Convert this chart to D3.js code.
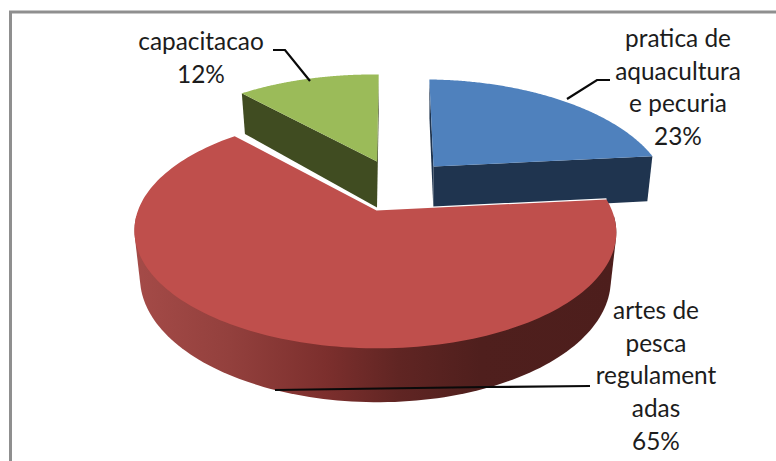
<!DOCTYPE html>
<html>
<head>
<meta charset="utf-8">
<script src="https://cdn.jsdelivr.net/npm/d3@7"></script>
<style>html,body{margin:0;padding:0;background:#fff}svg{display:block}</style>
</head>
<body>
<svg id="chart" width="776" height="461"></svg>
<script>
const categories = ["pratica de aquacultura e pecuria", "artes de pesca regulamentadas", "capacitacao"];
const values = [23, 65, 12];
const percentLabels = ["23%", "65%", "12%"];
const labelLines = [
  ["pratica de", "aquacultura", "e pecuria", "23%"],
  ["artes de", "pesca", "regulament", "adas", "65%"],
  ["capacitacao", "12%"]
];

const W = 776, H = 461;
const svg = d3.select("#chart").attr("viewBox", `0 0 ${W} ${H}`);

// Chart frame: only top and left edges are in the picture
svg.append("path").attr("d", `M10.5,${H} V12 H${W}`)
  .attr("fill", "none").attr("stroke", "#8f8f8f").attr("stroke-width", 3);

// Pie layout in data space
const arcs = d3.pie().sort(null).value(d => d)
  .startAngle(1.5 * Math.PI / 180)
  .endAngle((360 + 1.5) * Math.PI / 180)(values);

// Perspective projection of the unit disc
const DEPTH = 46, BOTTOM_SHRINK = 0.977;
const looks = [
  { apex: [433.5, 166.5], rx: 226, ry: 106.7, k: 0.226, lean: -11, drift: 0, top: "#4f81bd", side: "#1f344f" },
  { apex: [376.5, 210.5], rx: 237, ry: 113, k: 0.18, lean: -2, drift: -1.5, top: "#bf4f4c", side: "url(#redSide)" },
  { apex: [377, 161.5], rx: 233, ry: 106.7, k: 0.226, lean: -4, drift: 0, top: "#9bbb59", side: "#404c21" }
];

function project(look, a, r, lower) {
  const u = Math.sin(a) * r, v = Math.cos(a) * r, w = 1 + look.k * v;
  const sx = d3.scaleLinear().domain([0, 1]).range([0, look.rx]);
  const sy = d3.scaleLinear().domain([0, 1]).range([0, -look.ry]);
  let dx = (sx(u) + look.lean * v) / w + look.drift * r, dy = sy(v) / w;
  if (lower) { dx *= BOTTOM_SHRINK; dy += DEPTH / Math.pow(w, 0.8); }
  return [look.apex[0] + dx, look.apex[1] + dy];
}

function angles(d) {
  const n = 160;
  return d3.range(n + 1).map(i => d.startAngle + (d.endAngle - d.startAngle) * i / n);
}

const defs = svg.append("defs");
const grad = defs.append("linearGradient").attr("id", "redSide")
  .attr("gradientUnits", "userSpaceOnUse")
  .attr("x1", 133).attr("x2", 616).attr("y1", 0).attr("y2", 0);
[[0, "#a54b48"], [0.2, "#93403d"], [0.4, "#7c2f2d"], [0.55, "#602523"], [0.72, "#4f1f1d"], [1, "#4d1e1c"]]
  .forEach(([o, c]) => grad.append("stop").attr("offset", o).attr("stop-color", c));

const line = d3.line();
const order = [0, 2, 1];

order.forEach(i => {
  const look = looks[i], d = arcs[i];
  const as = angles(d);
  const apexTop = project(look, 0, 0, false), apexLow = project(look, 0, 0, true);
  const tArc = as.map(a => project(look, a, 1, false));
  const bArc = as.map(a => project(look, a, 1, true));
  const n = tArc.length - 1;
  const g = svg.append("g");
  // Near-side wall: hull of the front part of the top and bottom rims
  const front = as.filter(a => Math.cos(a) < -0.05);
  const hull = front.length > 2
    ? d3.polygonHull(front.flatMap(a => [project(look, a, 1, false), project(look, a, 1, true)]))
    : null;
  const walls = hull ? [hull] : [
    [apexTop, tArc[0], bArc[0], apexLow],
    [apexTop, tArc[n], bArc[n], apexLow]
  ];
  walls.forEach(w => g.append("path").attr("d", line(w) + "Z").attr("fill", look.side));
  if (i === 1) {
    // white seam only along the cut edges of the big slice
    g.append("path").attr("d", line([tArc[0], apexTop, tArc[n]])).attr("fill", "none")
      .attr("stroke", "#fff").attr("stroke-width", 2.6).attr("stroke-linejoin", "miter");
  }
  g.append("path").attr("d", line([apexTop].concat(tArc)) + "Z").attr("fill", look.top);
});

// Leader lines
const leaders = [
  [[610, 80], [597, 80], [567, 99]],
  [[590, 386], [487, 387], [275, 390]],
  [[273, 50], [285, 50], [310, 81]]
];
leaders.forEach(l => svg.append("path").attr("d", line(l))
  .attr("fill", "none").attr("stroke", "#0a0a0a").attr("stroke-width", 2.2));

// Labels
const labelAnchors = [[678, 47], [656, 319], [201, 50]];
const LINE_H = 32.7;
labelLines.forEach((lines, i) => {
  const t = svg.append("text").attr("text-anchor", "middle")
    .attr("font-family", "Lato, Carlito, 'Open Sans', sans-serif")
    .attr("font-size", 24.4).attr("fill", "#1c1c1c");
  lines.forEach((s, j) => t.append("tspan")
    .attr("x", labelAnchors[i][0]).attr("y", labelAnchors[i][1] + j * LINE_H).text(s));
});
</script>
</body>
</html>
